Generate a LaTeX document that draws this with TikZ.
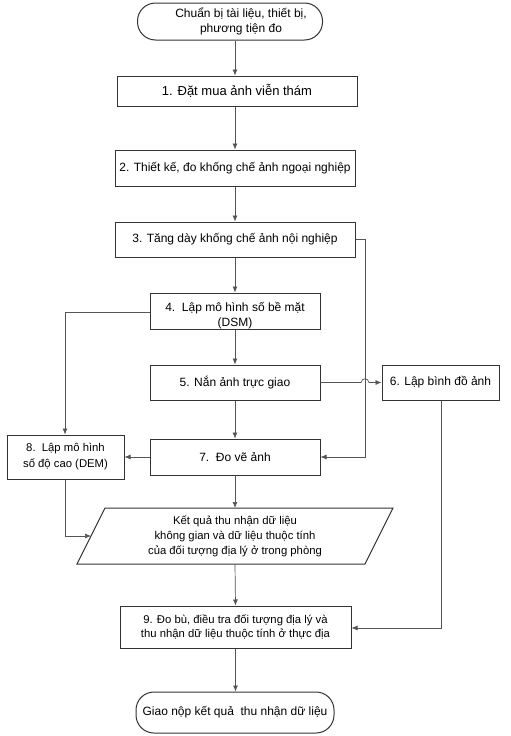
\documentclass[tikz,border=0pt]{standalone}
\usepackage{fontspec}
\setmainfont{Liberation Sans}
\usetikzlibrary{arrows.meta}
\definecolor{edge}{HTML}{333333}
\definecolor{wire}{HTML}{555555}
\begin{document}
\begin{tikzpicture}[x=1pt,y=-1pt,
  every node/.style={font=\fontsize{12}{15}\selectfont, align=center, text=black},
  small/.style={font=\fontsize{11.3}{14.8}\selectfont},
  box/.style={draw=edge, line width=1pt, rectangle, inner sep=0pt},
  term/.style={draw=edge, line width=1pt, rectangle, rounded corners=18pt, inner sep=0pt},
  txt/.style={inner sep=0pt},
  conn/.style={draw=wire, line width=0.7pt, -{Latex[length=6pt,width=5pt]}},
  wire/.style={draw=wire, line width=0.7pt}]
\useasboundingbox (0,0) rectangle (511,736);
\fill[white] (0,0) rectangle (511,736);

% terminals
\node[term, minimum width=185pt, minimum height=37pt] (start) at (230,21.5) {};
\node[txt] (startt) at (241,21.5) {Chuẩn bị tài liệu, thiết bị,\\phương tiện đo};
\node[term, minimum width=198pt, minimum height=41pt] (end) at (235,712.5) {Giao nộp kết quả\ \ thu nhận dữ liệu};

% boxes
\node[box, minimum width=240pt, minimum height=30pt, font=\fontsize{13}{15}\selectfont] (b1) at (237,91) {1. Đặt mua ảnh viễn thám};
\node[box, minimum width=240pt, minimum height=36pt] (b2) at (235,168) {2. Thiết kế, đo khống chế ảnh ngoại nghiệp};
\node[box, minimum width=240pt, minimum height=35pt] (b3) at (235,239.5) {3. Tăng dày khống chế ảnh nội nghiệp};
\node[box, minimum width=170pt, minimum height=36pt] (b4) at (235,311) {};
\node[txt] (b4t) at (235,316) {4.\ \ Lập mô hình số bề mặt\\(DSM)};
\node[box, minimum width=170pt, minimum height=35pt] (b5) at (235,382.5) {5. Nắn ảnh trực giao};
\node[box, minimum width=117pt, minimum height=35pt] (b6) at (440.5,382.5) {6. Lập bình đồ ảnh};
\node[box, minimum width=170pt, minimum height=36pt] (b7) at (235,457) {7.\ \ Đo vẽ ảnh};
\node[box, small, minimum width=117pt, minimum height=44pt, font=\fontsize{11.3}{16}\selectfont] (b8) at (65.5,457) {8.\ \ Lập mô hình\\số độ cao (DEM)};
\node[box, small, minimum width=231pt, minimum height=42pt] (b9) at (235.5,627) {9. Đo bù, điều tra đối tượng địa lý và\\thu nhận dữ liệu thuộc tính ở thực địa};

% parallelogram
\coordinate (ptl) at (105,508);
\coordinate (ptr) at (393,508);
\coordinate (pbr) at (365,564);
\coordinate (pbl) at (77,564);
\draw[edge, line width=1pt] (ptl) -- (ptr) -- (pbr) -- (pbl) -- cycle;
\node[txt, small] (para) at (235,536.5) {Kết quả thu nhận dữ liệu\\không gian và dữ liệu thuộc tính\\của đối tượng địa lý ở trong phòng};
\coordinate (ptop) at (235,508);
\coordinate (pbot) at (235,564);
\coordinate (pleft) at (91,536);

% main spine
\draw[conn] (start.south -| b2) -- (b1.north -| b2);
\draw[conn] (b1.south -| b2) -- (b2.north);
\draw[conn] (b2.south) -- (b3.north);
\draw[conn] (b3.south) -- (b4.north);
\draw[conn] (b4.south) -- (b5.north);
\draw[conn] (b5.south) -- (b7.north);
\draw[conn] (b7.south) -- (ptop);
\draw[conn] (pbot) -- (b9.north);
\draw[conn] (b9.south) -- (end.north -| b9.south);

% side connectors
\coordinate (r3) at (365,239.5);
\coordinate (r7) at (365,457);
\draw[conn] (b3.east) -- (r3) -- (r7) -- (b7.east);
\coordinate (l4) at (65,312);
\draw[conn] (b4.west |- l4) -- (l4) -- (b8.north -| l4);
\draw[conn] (b7.west) -- (b8.east);
\coordinate (l8) at (65,536);
\draw[conn] (b8.south -| l8) -- (l8) -- (pleft);
\coordinate (h1) at (361,382.5);
\coordinate (h2) at (369,382.5);
\draw[conn] (b5.east) -- (h1) .. controls (362,377.5) and (368,377.5) .. (h2) -- (b6.west);
\coordinate (r6) at (441,628);
\draw[conn] (b6.south -| r6) -- (r6) -- (b9.east |- r6);
\end{tikzpicture}
\end{document}
